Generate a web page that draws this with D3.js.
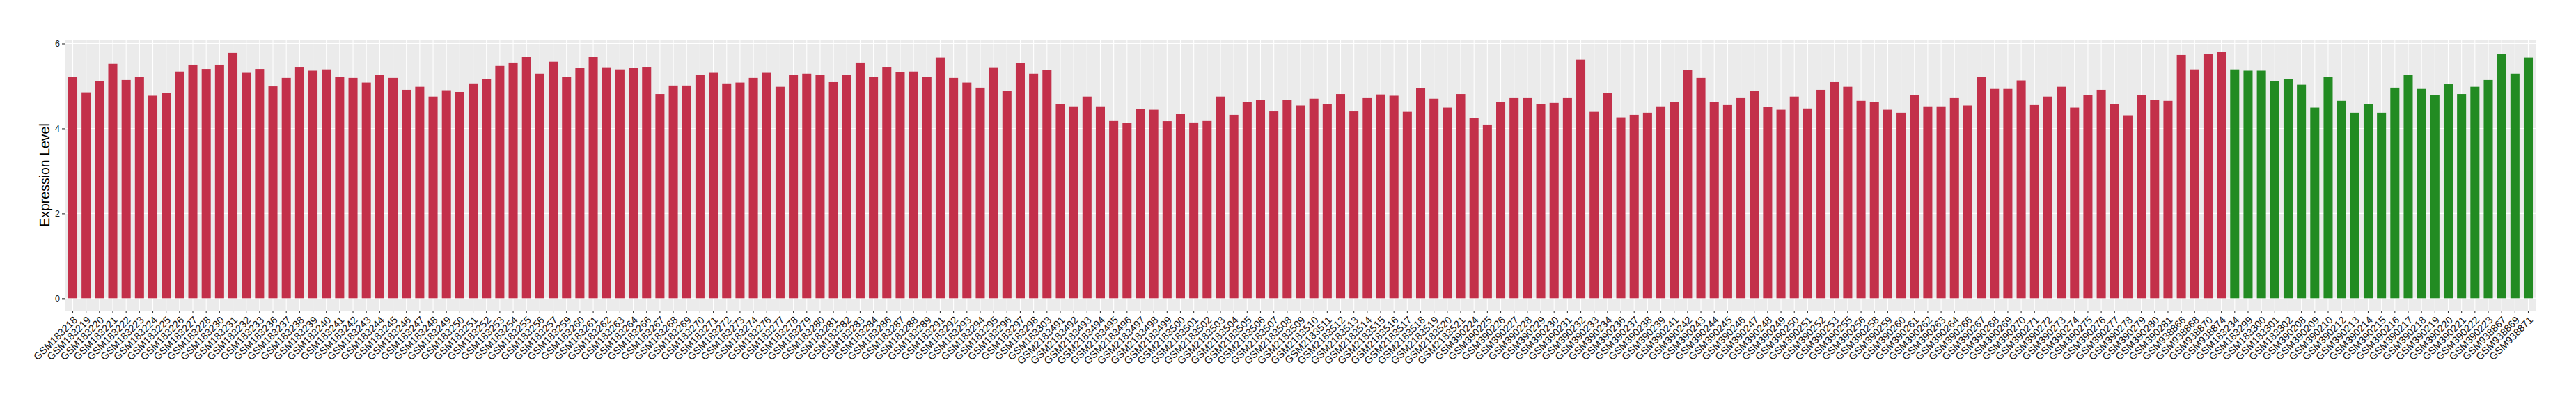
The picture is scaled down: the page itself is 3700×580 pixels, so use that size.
<!DOCTYPE html>
<html>
<head>
<meta charset="utf-8">
<script src="https://d3js.org/d3.v7.min.js"></script>
<style>
    body { margin: 0; background: #ffffff; }
    svg { display: block; font-family: "Liberation Sans", Arial, sans-serif; }
</style>
</head>
<body>
<svg id="chart" width="3700" height="580"></svg>
<script>
let redSamples = [
    "GSM183218", "GSM183219", "GSM183220", "GSM183221", "GSM183222", "GSM183223", "GSM183224", "GSM183225",
    "GSM183226", "GSM183227", "GSM183228", "GSM183230", "GSM183231", "GSM183232", "GSM183233", "GSM183236",
    "GSM183237", "GSM183238", "GSM183239", "GSM183240", "GSM183241", "GSM183242", "GSM183243", "GSM183244",
    "GSM183245", "GSM183246", "GSM183247", "GSM183248", "GSM183249", "GSM183250", "GSM183251", "GSM183252",
    "GSM183253", "GSM183254", "GSM183255", "GSM183256", "GSM183257", "GSM183259", "GSM183260", "GSM183261",
    "GSM183262", "GSM183263", "GSM183264", "GSM183266", "GSM183267", "GSM183268", "GSM183269", "GSM183270",
    "GSM183271", "GSM183272", "GSM183273", "GSM183274", "GSM183276", "GSM183277", "GSM183278", "GSM183279",
    "GSM183280", "GSM183281", "GSM183282", "GSM183283", "GSM183284", "GSM183286", "GSM183287", "GSM183288",
    "GSM183289", "GSM183291", "GSM183292", "GSM183293", "GSM183294", "GSM183295", "GSM183296", "GSM183297",
    "GSM183298", "GSM183303",
    "GSM2183491", "GSM2183492", "GSM2183493", "GSM2183494", "GSM2183495", "GSM2183496", "GSM2183497", "GSM2183498",
    "GSM2183499", "GSM2183500", "GSM2183501", "GSM2183502", "GSM2183503", "GSM2183504", "GSM2183505", "GSM2183506",
    "GSM2183507", "GSM2183508", "GSM2183509", "GSM2183510", "GSM2183511", "GSM2183512", "GSM2183513", "GSM2183514",
    "GSM2183515", "GSM2183516", "GSM2183517", "GSM2183518", "GSM2183519", "GSM2183520", "GSM2183521",
    "GSM390224", "GSM390225", "GSM390226", "GSM390227", "GSM390228", "GSM390229", "GSM390230", "GSM390231",
    "GSM390232", "GSM390233", "GSM390234", "GSM390236", "GSM390237", "GSM390238", "GSM390239", "GSM390241",
    "GSM390242", "GSM390243", "GSM390244", "GSM390245", "GSM390246", "GSM390247", "GSM390248", "GSM390249",
    "GSM390250", "GSM390251", "GSM390252", "GSM390253", "GSM390255", "GSM390256", "GSM390258", "GSM390259",
    "GSM390260", "GSM390261", "GSM390262", "GSM390263", "GSM390264", "GSM390266", "GSM390267", "GSM390268",
    "GSM390269", "GSM390270", "GSM390271", "GSM390272", "GSM390273", "GSM390274", "GSM390275", "GSM390276",
    "GSM390277", "GSM390278", "GSM390279", "GSM390280", "GSM390281",
    "GSM938866", "GSM938868", "GSM938870", "GSM938874"
];

let redValues = [
    5.21, 4.85, 5.11, 5.52, 5.14, 5.21, 4.77, 4.83, 5.34, 5.50, 5.40, 5.50, 5.78, 5.31, 5.40, 4.99,
    5.19, 5.45, 5.36, 5.39, 5.21, 5.19, 5.08, 5.26, 5.19, 4.91, 4.98, 4.75, 4.90, 4.86, 5.06, 5.16,
    5.47, 5.55, 5.68, 5.29, 5.57, 5.22, 5.42, 5.68, 5.44, 5.39, 5.42, 5.45, 4.81, 5.01, 5.01, 5.27,
    5.31, 5.06, 5.08, 5.19, 5.31, 4.98, 5.26, 5.29, 5.26, 5.09, 5.26, 5.55, 5.21, 5.45, 5.32, 5.34,
    5.22, 5.67, 5.19, 5.08, 4.96, 5.44, 4.88, 5.54, 5.29, 5.37,
    4.57, 4.52, 4.75, 4.52, 4.19, 4.13, 4.45, 4.44, 4.17, 4.34, 4.14, 4.19, 4.75, 4.32, 4.62, 4.67,
    4.40, 4.67, 4.54, 4.70, 4.57, 4.81, 4.40, 4.73, 4.80, 4.77, 4.39, 4.95, 4.70, 4.49, 4.81,
    4.24, 4.09, 4.63, 4.73, 4.73, 4.58, 4.60, 4.73, 5.62, 4.39, 4.83, 4.26, 4.32, 4.37, 4.52, 4.62,
    5.37, 5.19, 4.62, 4.55, 4.73, 4.88, 4.50, 4.44, 4.75, 4.47, 4.91, 5.09, 4.98, 4.65, 4.62, 4.44,
    4.37, 4.78, 4.52, 4.52, 4.73, 4.54, 5.21, 4.93, 4.93, 5.13, 4.55, 4.75, 4.98, 4.49, 4.78, 4.91,
    4.58, 4.31, 4.78, 4.67, 4.65,
    5.73, 5.39, 5.75, 5.80
];

let greenSamples = [
    "GSM183234", "GSM183299", "GSM183300", "GSM183301", "GSM183302",
    "GSM390208", "GSM390209", "GSM390210", "GSM390212", "GSM390213", "GSM390214", "GSM390215", "GSM390216",
    "GSM390217", "GSM390218", "GSM390219", "GSM390220", "GSM390221", "GSM390222", "GSM390223",
    "GSM938867", "GSM938869", "GSM938871"
];

let greenValues = [
    5.39, 5.36, 5.36, 5.11, 5.17,
    5.03, 4.49, 5.21, 4.65, 4.37, 4.57, 4.37, 4.96, 5.26, 4.93, 4.78, 5.04, 4.81, 4.98, 5.14,
    5.75, 5.29, 5.67
];

let yTicks = [0, 2, 4, 6];
let yMinorTicks = [1, 3, 5];
let yTitle = "Expression Level";

let colors = { red: "#C3304A", green: "#228B22" };

let data = redSamples.map((s, i) => ({ sample: s, value: redValues[i], group: "red" }))
    .concat(greenSamples.map((s, i) => ({ sample: s, value: greenValues[i], group: "green" })));

let panel = { left: 93, right: 3643, top: 57, bottom: 446 };

let svg = d3.select("#chart");

let x = d3.scaleBand()
    .domain(data.map(d => d.sample))
    .range([panel.left, panel.right])
    .paddingInner(0)
    .paddingOuter(0.1);

let maxVal = d3.max(data, d => d.value);
let pad = maxVal * 0.05;

let y = d3.scaleLinear()
    .domain([-pad, maxVal + pad])
    .range([panel.bottom, panel.top]);

let step = x.step();
let barWidth = step * 0.68;

// panel background
svg.append("rect")
    .attr("x", panel.left)
    .attr("y", panel.top)
    .attr("width", panel.right - panel.left)
    .attr("height", panel.bottom - panel.top)
    .attr("fill", "#EBEBEB");

// grid
svg.append("g")
    .selectAll("line")
    .data(yMinorTicks)
    .enter()
    .append("line")
    .attr("x1", panel.left)
    .attr("x2", panel.right)
    .attr("y1", d => y(d))
    .attr("y2", d => y(d))
    .attr("stroke", "#ffffff")
    .attr("stroke-width", 0.55);

svg.append("g")
    .selectAll("line")
    .data(yTicks)
    .enter()
    .append("line")
    .attr("x1", panel.left)
    .attr("x2", panel.right)
    .attr("y1", d => y(d))
    .attr("y2", d => y(d))
    .attr("stroke", "#ffffff")
    .attr("stroke-width", 1.1);

svg.append("g")
    .selectAll("line")
    .data(data)
    .enter()
    .append("line")
    .attr("x1", d => x(d.sample) + step / 2)
    .attr("x2", d => x(d.sample) + step / 2)
    .attr("y1", panel.top)
    .attr("y2", panel.bottom)
    .attr("stroke", "#ffffff")
    .attr("stroke-width", 1.1);

// bars
svg.append("g")
    .selectAll("rect")
    .data(data)
    .enter()
    .append("rect")
    .attr("x", d => x(d.sample) + step / 2 - barWidth / 2)
    .attr("width", barWidth)
    .attr("y", d => y(d.value))
    .attr("height", d => y(0) - y(d.value))
    .attr("fill", d => colors[d.group]);

// y axis
let yAxis = svg.append("g")
    .attr("transform", `translate(${panel.left},0)`)
    .call(d3.axisLeft(y).tickValues(yTicks).tickSize(4).tickPadding(3).tickFormat(d3.format("d")));

yAxis.select(".domain").remove();
yAxis.selectAll(".tick line")
    .attr("stroke", "#333333")
    .attr("stroke-width", 1.1);
yAxis.selectAll(".tick text")
    .attr("fill", "#1A1A1A")
    .style("font-size", "12.5px")
    .style("font-family", "'Liberation Sans', Arial, sans-serif");

// x axis
let xAxis = svg.append("g")
    .attr("transform", `translate(0,${panel.bottom})`)
    .call(d3.axisBottom(x).tickSize(4).tickPadding(3));

xAxis.select(".domain").remove();
xAxis.selectAll(".tick line")
    .attr("stroke", "#333333")
    .attr("stroke-width", 1.1);
xAxis.selectAll(".tick text")
    .attr("fill", "#111111")
    .style("font-size", "14.5px")
    .style("font-family", "'Liberation Sans', Arial, sans-serif")
    .attr("text-anchor", "end")
    .attr("y", 0)
    .attr("dy", "0.72em")
    .attr("transform", "translate(0,7) rotate(-45)");

svg.append("text")
    .attr("transform", `translate(71,${(panel.top + panel.bottom) / 2}) rotate(-90)`)
    .attr("text-anchor", "middle")
    .style("font-size", "19.5px")
    .attr("fill", "#000000")
    .text(yTitle);
</script>
</body>
</html>
